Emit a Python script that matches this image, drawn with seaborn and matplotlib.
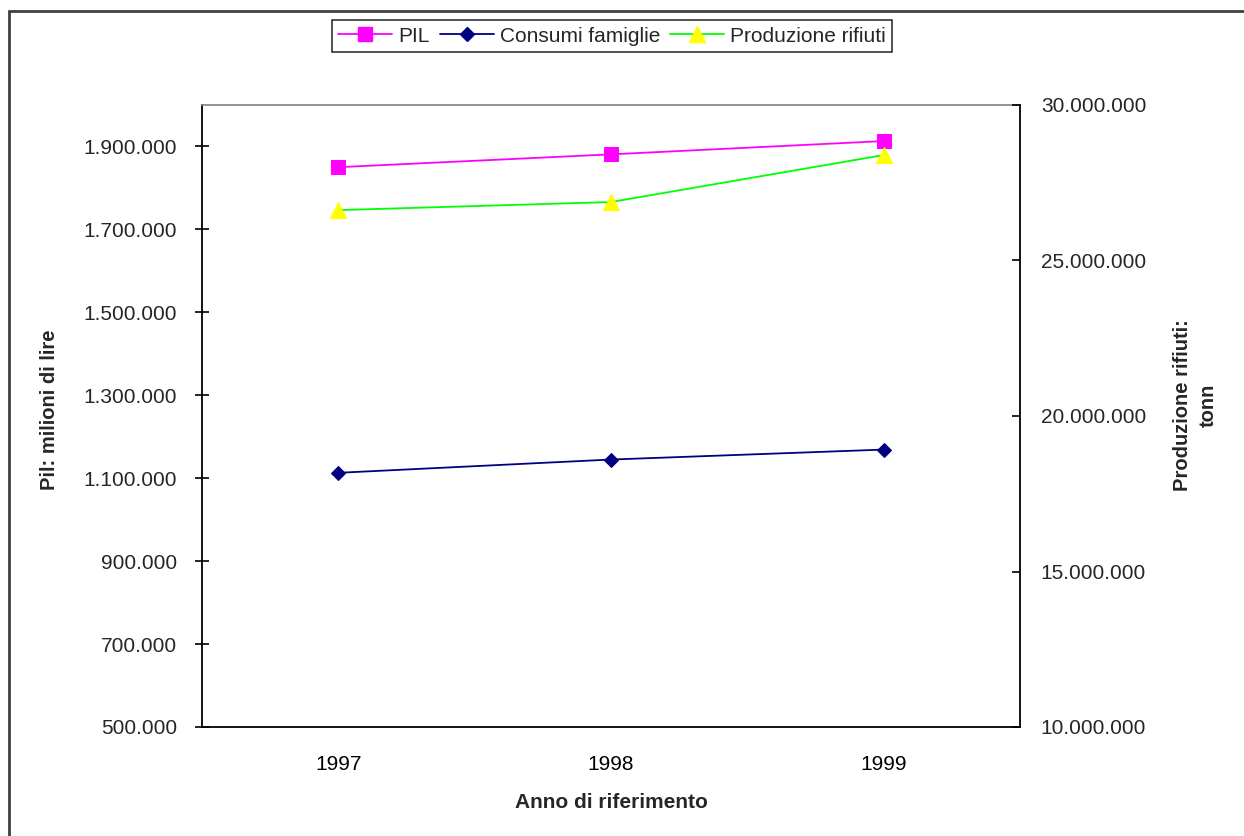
import matplotlib
matplotlib.use("Agg")
import matplotlib.pyplot as plt
import seaborn as sns
import pandas as pd
from matplotlib.ticker import FuncFormatter, FixedLocator
from matplotlib.lines import Line2D

years = ["1997", "1998", "1999"]
pil = [1850000, 1881000, 1913000]
consumi = [1113000, 1145000, 1169000]
rifiuti = [26620000, 26880000, 28390000]

left_ticks = [500000, 700000, 900000, 1100000, 1300000, 1500000, 1700000, 1900000]
right_ticks = [10000000, 15000000, 20000000, 25000000, 30000000]

sns.set_theme(style="white")
plt.rcParams['font.family'] = ['Liberation Sans', 'DejaVu Sans']

df = pd.DataFrame({"anno": years, "PIL": pil, "Consumi": consumi, "Rifiuti": rifiuti})

fig = plt.figure(figsize=(12.44, 8.36), dpi=100)
ax = fig.add_axes([202/1244, 1-727/836, (1020-202)/1244, (727-105)/836])
ax2 = ax.twinx()

fmt = FuncFormatter(lambda v, p: f"{int(round(v)):,}".replace(",", "."))

sns.lineplot(data=df, x="anno", y="PIL", ax=ax, color="#FF00FF", marker="s",
             markersize=10, markeredgecolor="#FF00FF", linewidth=1.3, label="PIL", legend=False)
sns.lineplot(data=df, x="anno", y="Consumi", ax=ax, color="#000080", marker="D",
             markersize=7, markeredgecolor="#000080", linewidth=1.3, label="Consumi famiglie", legend=False)
sns.lineplot(data=df, x="anno", y="Rifiuti", ax=ax2, color="#00FF00", marker="^",
             markersize=11, markerfacecolor="#FFFF00", markeredgecolor="#FFFF00",
             linewidth=1.3, label="Produzione rifiuti", legend=False)

ax.set_xlim(-0.5, 2.5)
ax.set_ylim(500000, 2000000)
ax2.set_ylim(10000000, 30000000)
ax.yaxis.set_major_locator(FixedLocator(left_ticks))
ax2.yaxis.set_major_locator(FixedLocator(right_ticks))
ax.yaxis.set_major_formatter(fmt)
ax2.yaxis.set_major_formatter(fmt)

TICK_FS = 15
ax.set_xticks([0, 1, 2])
ax.set_xticklabels(years)
ax.set_xticks([-0.5, 0.5, 1.5, 2.5], minor=True)
ax.tick_params(axis="x", which="major", length=0, pad=20, labelsize=TICK_FS, colors="black")
ax.tick_params(axis="x", which="minor", length=9, direction="inout", width=1.2, color="black")
ax.tick_params(axis="y", which="major", length=9.5, direction="inout", width=1.2, color="black",
               labelsize=TICK_FS, pad=13, left=True)
ax2.tick_params(axis="y", which="major", length=6, direction="in", width=1.2, color="black",
                labelsize=TICK_FS, pad=15, right=True)

for s in ["left", "bottom"]:
    ax.spines[s].set_color("black")
    ax.spines[s].set_linewidth(1.3)
ax.spines["top"].set_color("#808080")
ax.spines["top"].set_linewidth(1.2)
ax.spines["right"].set_visible(False)
for s in ["left", "bottom", "top"]:
    ax2.spines[s].set_visible(False)
ax2.spines["right"].set_color("black")
ax2.spines["right"].set_linewidth(1.3)
ax2.spines["right"].set_visible(True)

ax.set_xlabel("Anno di riferimento", fontsize=15, fontweight="bold", labelpad=14)
ax.set_ylabel("Pil: milioni di lire", fontsize=14.5, fontweight="bold", labelpad=18)
ax2.set_ylabel("Produzione rifiuti:\ntonn", fontsize=14.5, fontweight="bold", labelpad=19,
               linespacing=1.5)
ax.yaxis.label.set_y((727 - 410) / 622)
ax2.yaxis.label.set_y((727 - 405) / 622)
ax.grid(False)
ax2.grid(False)

handles = [Line2D([], [], color="#FF00FF", marker="s", markersize=10, markeredgecolor="#FF00FF", linewidth=1.3),
           Line2D([], [], color="#000080", marker="D", markersize=7, markeredgecolor="#000080", linewidth=1.3),
           Line2D([], [], color="#00FF00", marker="^", markersize=11, markerfacecolor="#FFFF00",
                  markeredgecolor="#FFFF00", linewidth=1.3)]
leg = fig.legend(handles, ["PIL", "Consumi famiglie", "Produzione rifiuti"], loc="center",
                 bbox_to_anchor=(612/1244, 1-36/836), ncol=3, frameon=True, fancybox=False,
                 shadow=False, fontsize=15, handlelength=2.6, handletextpad=0.27,
                 columnspacing=0.5, borderpad=0.3, borderaxespad=0)
leg.get_frame().set_edgecolor("black")
leg.get_frame().set_linewidth(1.2)

# figure border (left and top)
fig.add_artist(Line2D([9/1244, 9/1244], [0, 1-11/836], transform=fig.transFigure, color="#404040", lw=2))
fig.add_artist(Line2D([9/1244, 1], [1-11/836, 1-11/836], transform=fig.transFigure, color="#404040", lw=2))

fig.savefig("out.png", dpi=100)
